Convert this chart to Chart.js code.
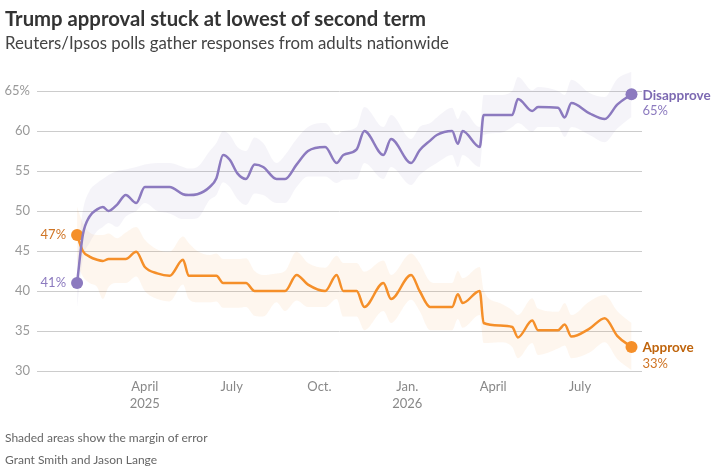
<!DOCTYPE html>
<html><head><meta charset="utf-8">
<script src="https://cdn.jsdelivr.net/npm/chart.js"></script>
<style>
html,body{margin:0;padding:0;background:#fff;width:711px;height:476px;overflow:hidden;font-family:Lato,sans-serif}
#wrap{position:relative;width:711px;height:476px}
canvas{position:absolute;left:0;top:0}
.t{position:absolute;left:5px;white-space:nowrap;line-height:1}
#title{top:8px;font-size:20.3px;font-weight:700;color:#333}
#sub{top:35px;font-size:16.8px;color:#444}
#note{top:432px;font-size:12px;color:#666}
#byline{top:454px;font-size:12px;color:#666}
</style></head>
<body><div id="wrap"><canvas id="c" width="711" height="476"></canvas>
<div class="t" id="title">Trump approval stuck at lowest of second term</div>
<div class="t" id="sub">Reuters/Ipsos polls gather responses from adults nationwide</div>
<div class="t" id="note">Shaded areas show the margin of error</div>
<div class="t" id="byline">Grant Smith and Jason Lange</div>
</div>
<script>
// ---- data ----
const pollDates = [
"2025-01-20","2025-01-26","2025-02-02","2025-02-10","2025-02-16","2025-02-22","2025-03-03","2025-03-12","2025-03-23","2025-04-01",
"2025-04-14","2025-04-27","2025-05-11","2025-05-17","2025-05-26","2025-06-08","2025-06-15","2025-06-22","2025-06-29","2025-07-07",
"2025-07-16","2025-07-25","2025-08-03","2025-08-17","2025-08-26","2025-09-07","2025-09-19","2025-10-07","2025-10-19","2025-10-26",
"2025-11-09","2025-11-17","2025-12-07","2025-12-15","2026-01-05","2026-01-14","2026-01-25","2026-02-01","2026-02-17","2026-02-23",
"2026-02-28","2026-03-18","2026-03-22","2026-04-08","2026-04-21","2026-04-27","2026-05-12","2026-05-18","2026-06-08","2026-06-15",
"2026-06-22","2026-07-11","2026-07-27","2026-08-09","2026-08-24"];
const disapprove = [41,47,49.3,50.2,50.5,50,50.8,52,51,53, 53,53,52.1,52,52.1,53,54.1,57,56.4,54.7, 54,55.8,55.5,54,54,55.8,57.5,58,56,57, 57.7,60,57,59,56,57.6,58.8,59.5,60,58.4, 60,58,62,62,62,64,62.5,63,62.9,61.7, 63.5,62.2,61.5,63.3,64.6];
const disapproveHigh = [44,50,52.5,53.5,54,54.5,55,55.2,55.5,55.8, 56,56,55.5,55.3,55.5,57.5,58.5,60,59.5,58, 57.5,59.2,58.5,56,57,59,60.5,61,59.5,60, 60.5,63,60.5,62,59,60.5,61,61.7,62.9,61.5, 62.6,60.5,64.5,64.5,65,66.75,65.1,65.5,65,64.5, 66.4,64.75,64.25,66.5,67.4];
const disapproveLow = [38,44,46,47.5,48,48.5,48,49.3,50,51, 50,49.7,49,49,49.1,51.4,52,53.6,53,51.5, 50.75,52.2,52,51,51,53,54.3,54.3,53.5,53.9, 54,56,54,55.5,53.25,54.5,55.5,56,57,55.5, 57,55.5,59.5,59.75,60.5,61,59.9,60.5,60.5,59.25, 60.5,59.5,58.6,60.3,61.75];
const approve = [47,45,44.3,43.9,43.75,44,44,44,44.9,43, 42.2,41.9,43.9,41.9,41.9,41.9,41.9,41,41,41, 41,40,40,40,40,42,40.8,40,42,40, 40,38,41,39,42,40,38,38,38,39.6, 38.5,40,36,35.7,35.5,34.2,36.3,35.1,35.1,35.8, 34.3,35.3,36.6,34.4,33];
const approveHigh = [50.5,48.5,47.3,47,47,47.2,46.6,47.3,48,46.4, 45.2,44.9,46.8,46,45,44.5,44.7,44,44,44, 44.1,42.5,42,42.2,42.5,44.9,43.5,42.9,44.4,43.5, 43.5,42.4,43.8,42,44.7,43.5,41.2,41,41,42.5, 41.6,43,40.1,38.5,37.6,37,39.1,37.8,37.4,38.5, 37,38.7,39.5,37.5,36];
const approveLow = [43.5,41.8,41,40.5,39,40.5,41,41,41.8,40, 39,38.7,40.8,39,38.6,38.6,38.7,37.9,37.9,37.9, 38,36.9,36.8,38.6,37.5,38.8,38,38,39,36.8, 36.8,35.1,37.5,36,38.9,37.5,35.1,35.1,35.1,36.5, 35.4,37,33.5,33.6,33,31.6,33.5,32,32.8,33.2, 31.6,32.3,33.6,31.5,30.1];
const xTickDates = ["2025-04-01","2025-07-01","2025-10-01","2026-01-01","2026-04-01","2026-07-01"];
const xTickLabels = [["April","2025"],"July","Oct.",["Jan.","2026"],"April","July"];
const yTicks = [30,35,40,45,50,55,60,65];
const seriesNames = ["Disapprove","Approve"];

// ---- helpers ----
const DAY0 = Date.UTC(2025,0,1);
const toDay = s => { const [y,m,d]=s.split('-').map(Number); return (Date.UTC(y,m-1,d)-DAY0)/86400000; };
const xs = pollDates.map(toDay);
const pts = arr => arr.map((v,i)=>({x:xs[i], y:v}));
const xTickDays = xTickDates.map(toDay);

const PURPLE = '#8c7abf', ORANGE = '#f58f29';
const last = pollDates.length-1;
const endRadius = c => (c.dataIndex===0||c.dataIndex===last)?6:0;

const common = {pointRadius:0, borderWidth:0, tension:0.4, cubicInterpolationMode:'monotone', order:2};
const endLabels = {
  id:'endLabels',
  afterDatasetsDraw(chart){
    const ctx=chart.ctx, sx=chart.scales.x, sy=chart.scales.y;
    const items=[
      {arr:disapprove, name:seriesNames[0], col:'#7c69b2', col2:'#8c7abf'},
      {arr:approve, name:seriesNames[1], col:'#bf640c', col2:'#cf7424'}
    ];
    ctx.save();
    items.forEach(it=>{
      const x0=sx.getPixelForValue(xs[0]), y0=sy.getPixelForValue(it.arr[0]);
      ctx.font='13px Lato'; ctx.fillStyle=it.col2; ctx.textAlign='right'; ctx.textBaseline='middle';
      ctx.fillText(Math.round(it.arr[0])+'%', x0-11, y0);
      const x1=sx.getPixelForValue(xs[last]), y1=sy.getPixelForValue(it.arr[last]);
      ctx.textAlign='left';
      ctx.font='bold 13.5px Lato'; ctx.fillStyle=it.col;
      ctx.fillText(it.name, x1+11, y1+1);
      ctx.font='13px Lato'; ctx.fillStyle=it.col2;
      ctx.fillText(Math.round(it.arr[last])+'%', x1+11, y1+17);
    });
    ctx.restore();
  }
};

new Chart(document.getElementById('c'), {
  type:'line',
  data:{datasets:[
    {data:pts(disapprove), borderColor:PURPLE, backgroundColor:PURPLE, borderWidth:2.5, pointRadius:endRadius, pointHoverRadius:0, pointBorderWidth:0, tension:0.4, cubicInterpolationMode:'monotone', order:0, fill:false},
    {data:pts(approve), borderColor:ORANGE, backgroundColor:ORANGE, borderWidth:2.5, pointRadius:endRadius, pointHoverRadius:0, pointBorderWidth:0, tension:0.4, cubicInterpolationMode:'monotone', order:0, fill:false},
    {...common, data:pts(disapproveHigh), borderColor:'transparent', backgroundColor:'rgba(140,122,191,0.085)', fill:'+1'},
    {...common, data:pts(disapproveLow), borderColor:'transparent', fill:false},
    {...common, data:pts(approveHigh), borderColor:'transparent', backgroundColor:'rgba(245,143,41,0.08)', fill:'+1'},
    {...common, data:pts(approveLow), borderColor:'transparent', fill:false}
  ]},
  options:{
    responsive:false, animation:false, devicePixelRatio:1,
    clip:false,
    layout:{padding:{left:0,right:69,top:67,bottom:55}},
    plugins:{legend:{display:false}, tooltip:{enabled:false}},
    scales:{
      x:{type:'linear', min:-23, max:611,
        afterBuildTicks:s=>{s.ticks=xTickDays.map(v=>({value:v}));},
        afterFit:s=>{s.height=50;},
        grid:{display:false, drawTicks:false}, border:{display:false},
        ticks:{autoSkip:false, maxRotation:0, padding:7, color:'#888', font:{family:'Lato',size:13, lineHeight:1.3},
          callback:(v)=>{const i=xTickDays.indexOf(v); return i>=0?xTickLabels[i]:'';}}
      },
      y:{type:'linear', min:30, max:68,
        afterBuildTicks:s=>{s.ticks=yTicks.map(v=>({value:v}));},
        afterFit:s=>{s.width=37;},
        grid:{color:'#cccccc', lineWidth:1, drawTicks:false}, border:{display:false},
        ticks:{padding:7, color:'#999', font:{family:'Lato',size:13},
          callback:v=>v===65?'65%':String(v)}
      }
    }
  },
  plugins:[endLabels]
});
</script>
</body></html>
